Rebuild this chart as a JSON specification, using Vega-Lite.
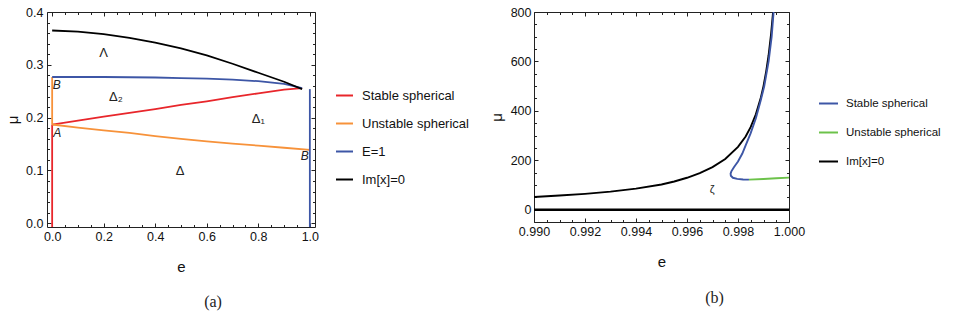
{
  "$schema": "https://vega.github.io/schema/vega-lite/v6.json",
  "background": "white",
  "padding": 5,
  "spacing": 18,
  "config": {
    "view": {"stroke": "#222", "strokeWidth": 1},
    "font": "Liberation Sans",
    "axis": {
      "grid": false, "domain": false, "labelFlush": false, "labelOverlap": false,
      "labelFont": "Liberation Sans", "labelFontSize": 12.5, "labelColor": "#111",
      "tickColor": "#222", "tickWidth": 1,
      "titleFont": "Liberation Sans", "titleFontSize": 15, "titleFontWeight": "normal", "titleColor": "#111"
    },
    "title": {"font": "Liberation Serif", "fontSize": 16, "fontWeight": "normal", "color": "#222"}
  },
  "resolve": {"scale": {"color": "independent"}, "legend": {"color": "independent"}},
  "datasets": {
    "a": [
      {"e": 0, "mu": 0.187, "s": "Stable spherical", "seg": "r", "i": 0},
      {"e": 0.1, "mu": 0.1945, "s": "Stable spherical", "seg": "r", "i": 1},
      {"e": 0.2, "mu": 0.202, "s": "Stable spherical", "seg": "r", "i": 2},
      {"e": 0.3, "mu": 0.209, "s": "Stable spherical", "seg": "r", "i": 3},
      {"e": 0.4, "mu": 0.216, "s": "Stable spherical", "seg": "r", "i": 4},
      {"e": 0.5, "mu": 0.224, "s": "Stable spherical", "seg": "r", "i": 5},
      {"e": 0.6, "mu": 0.231, "s": "Stable spherical", "seg": "r", "i": 6},
      {"e": 0.7, "mu": 0.239, "s": "Stable spherical", "seg": "r", "i": 7},
      {"e": 0.8, "mu": 0.246, "s": "Stable spherical", "seg": "r", "i": 8},
      {"e": 0.9, "mu": 0.253, "s": "Stable spherical", "seg": "r", "i": 9},
      {"e": 0.97, "mu": 0.256, "s": "Stable spherical", "seg": "r", "i": 10},
      {"e": 0, "mu": 0.187, "s": "Stable spherical", "seg": "rv", "i": 0},
      {"e": 0, "mu": -0.007, "s": "Stable spherical", "seg": "rv", "i": 1},
      {"e": 0, "mu": 0.187, "s": "Unstable spherical", "seg": "o", "i": 0},
      {"e": 0.1, "mu": 0.181, "s": "Unstable spherical", "seg": "o", "i": 1},
      {"e": 0.2, "mu": 0.176, "s": "Unstable spherical", "seg": "o", "i": 2},
      {"e": 0.3, "mu": 0.171, "s": "Unstable spherical", "seg": "o", "i": 3},
      {"e": 0.4, "mu": 0.165, "s": "Unstable spherical", "seg": "o", "i": 4},
      {"e": 0.5, "mu": 0.16, "s": "Unstable spherical", "seg": "o", "i": 5},
      {"e": 0.6, "mu": 0.155, "s": "Unstable spherical", "seg": "o", "i": 6},
      {"e": 0.7, "mu": 0.151, "s": "Unstable spherical", "seg": "o", "i": 7},
      {"e": 0.8, "mu": 0.147, "s": "Unstable spherical", "seg": "o", "i": 8},
      {"e": 0.9, "mu": 0.143, "s": "Unstable spherical", "seg": "o", "i": 9},
      {"e": 1.0, "mu": 0.139, "s": "Unstable spherical", "seg": "o", "i": 10},
      {"e": 0, "mu": 0.187, "s": "Unstable spherical", "seg": "ov", "i": 0},
      {"e": 0, "mu": 0.277, "s": "Unstable spherical", "seg": "ov", "i": 1},
      {"e": 0, "mu": 0.277, "s": "E=1", "seg": "b", "i": 0},
      {"e": 0.1, "mu": 0.277, "s": "E=1", "seg": "b", "i": 1},
      {"e": 0.2, "mu": 0.277, "s": "E=1", "seg": "b", "i": 2},
      {"e": 0.3, "mu": 0.2765, "s": "E=1", "seg": "b", "i": 3},
      {"e": 0.4, "mu": 0.276, "s": "E=1", "seg": "b", "i": 4},
      {"e": 0.5, "mu": 0.275, "s": "E=1", "seg": "b", "i": 5},
      {"e": 0.6, "mu": 0.274, "s": "E=1", "seg": "b", "i": 6},
      {"e": 0.7, "mu": 0.272, "s": "E=1", "seg": "b", "i": 7},
      {"e": 0.8, "mu": 0.269, "s": "E=1", "seg": "b", "i": 8},
      {"e": 0.9, "mu": 0.264, "s": "E=1", "seg": "b", "i": 9},
      {"e": 0.97, "mu": 0.256, "s": "E=1", "seg": "b", "i": 10},
      {"e": 1.0, "mu": 0.254, "s": "E=1", "seg": "bv", "i": 0},
      {"e": 1.0, "mu": -0.007, "s": "E=1", "seg": "bv", "i": 1},
      {"e": 0, "mu": 0.365, "s": "Im[x]=0", "seg": "k", "i": 0},
      {"e": 0.1, "mu": 0.363, "s": "Im[x]=0", "seg": "k", "i": 1},
      {"e": 0.2, "mu": 0.358, "s": "Im[x]=0", "seg": "k", "i": 2},
      {"e": 0.3, "mu": 0.351, "s": "Im[x]=0", "seg": "k", "i": 3},
      {"e": 0.4, "mu": 0.342, "s": "Im[x]=0", "seg": "k", "i": 4},
      {"e": 0.5, "mu": 0.331, "s": "Im[x]=0", "seg": "k", "i": 5},
      {"e": 0.6, "mu": 0.318, "s": "Im[x]=0", "seg": "k", "i": 6},
      {"e": 0.7, "mu": 0.302, "s": "Im[x]=0", "seg": "k", "i": 7},
      {"e": 0.8, "mu": 0.285, "s": "Im[x]=0", "seg": "k", "i": 8},
      {"e": 0.9, "mu": 0.268, "s": "Im[x]=0", "seg": "k", "i": 9},
      {"e": 0.97, "mu": 0.254, "s": "Im[x]=0", "seg": "k", "i": 10}
    ],
    "aGreek": [
      {"e": 0.2, "mu": 0.322, "t": "Λ"},
      {"e": 0.247, "mu": 0.24, "t": "Δ₂"},
      {"e": 0.8, "mu": 0.198, "t": "Δ₁"},
      {"e": 0.496, "mu": 0.099, "t": "Δ"}
    ],
    "aPts": [
      {"e": 0.018, "mu": 0.262, "t": "B"},
      {"e": 0.02, "mu": 0.171, "t": "A"},
      {"e": 0.98, "mu": 0.127, "t": "B"}
    ],
    "b": [
      {"e": 0.990, "mu": 51, "s": "Im[x]=0", "seg": "k", "i": 0},
      {"e": 0.991, "mu": 57, "s": "Im[x]=0", "seg": "k", "i": 1},
      {"e": 0.992, "mu": 64, "s": "Im[x]=0", "seg": "k", "i": 2},
      {"e": 0.993, "mu": 73, "s": "Im[x]=0", "seg": "k", "i": 3},
      {"e": 0.994, "mu": 85, "s": "Im[x]=0", "seg": "k", "i": 4},
      {"e": 0.995, "mu": 102, "s": "Im[x]=0", "seg": "k", "i": 5},
      {"e": 0.9955, "mu": 114, "s": "Im[x]=0", "seg": "k", "i": 6},
      {"e": 0.996, "mu": 129, "s": "Im[x]=0", "seg": "k", "i": 7},
      {"e": 0.9965, "mu": 148, "s": "Im[x]=0", "seg": "k", "i": 8},
      {"e": 0.997, "mu": 172, "s": "Im[x]=0", "seg": "k", "i": 9},
      {"e": 0.9975, "mu": 205, "s": "Im[x]=0", "seg": "k", "i": 10},
      {"e": 0.998, "mu": 254, "s": "Im[x]=0", "seg": "k", "i": 11},
      {"e": 0.9983, "mu": 296, "s": "Im[x]=0", "seg": "k", "i": 12},
      {"e": 0.9985, "mu": 335, "s": "Im[x]=0", "seg": "k", "i": 13},
      {"e": 0.9987, "mu": 386, "s": "Im[x]=0", "seg": "k", "i": 14},
      {"e": 0.9989, "mu": 455, "s": "Im[x]=0", "seg": "k", "i": 15},
      {"e": 0.999, "mu": 500, "s": "Im[x]=0", "seg": "k", "i": 16},
      {"e": 0.9991, "mu": 556, "s": "Im[x]=0", "seg": "k", "i": 17},
      {"e": 0.9992, "mu": 625, "s": "Im[x]=0", "seg": "k", "i": 18},
      {"e": 0.9993, "mu": 714, "s": "Im[x]=0", "seg": "k", "i": 19},
      {"e": 0.99937, "mu": 794, "s": "Im[x]=0", "seg": "k", "i": 20},
      {"e": 0.99938, "mu": 806, "s": "Im[x]=0", "seg": "k", "i": 21},
      {"e": 0.9994, "mu": 806, "s": "Stable spherical", "seg": "b", "i": 0},
      {"e": 0.99932, "mu": 700, "s": "Stable spherical", "seg": "b", "i": 1},
      {"e": 0.9992, "mu": 600, "s": "Stable spherical", "seg": "b", "i": 2},
      {"e": 0.99903, "mu": 500, "s": "Stable spherical", "seg": "b", "i": 3},
      {"e": 0.99889, "mu": 442, "s": "Stable spherical", "seg": "b", "i": 4},
      {"e": 0.9987, "mu": 370, "s": "Stable spherical", "seg": "b", "i": 5},
      {"e": 0.99849, "mu": 308, "s": "Stable spherical", "seg": "b", "i": 6},
      {"e": 0.9983, "mu": 260, "s": "Stable spherical", "seg": "b", "i": 7},
      {"e": 0.99817, "mu": 227, "s": "Stable spherical", "seg": "b", "i": 8},
      {"e": 0.998, "mu": 195, "s": "Stable spherical", "seg": "b", "i": 9},
      {"e": 0.99784, "mu": 172, "s": "Stable spherical", "seg": "b", "i": 10},
      {"e": 0.99774, "mu": 155, "s": "Stable spherical", "seg": "b", "i": 11},
      {"e": 0.99771, "mu": 146, "s": "Stable spherical", "seg": "b", "i": 12},
      {"e": 0.99772, "mu": 137, "s": "Stable spherical", "seg": "b", "i": 13},
      {"e": 0.9978, "mu": 129, "s": "Stable spherical", "seg": "b", "i": 14},
      {"e": 0.99797, "mu": 124.5, "s": "Stable spherical", "seg": "b", "i": 15},
      {"e": 0.9982, "mu": 122, "s": "Stable spherical", "seg": "b", "i": 16},
      {"e": 0.99843, "mu": 121.5, "s": "Stable spherical", "seg": "b", "i": 17},
      {"e": 0.99843, "mu": 121.5, "s": "Unstable spherical", "seg": "g", "i": 0},
      {"e": 0.999, "mu": 124, "s": "Unstable spherical", "seg": "g", "i": 1},
      {"e": 0.9995, "mu": 127, "s": "Unstable spherical", "seg": "g", "i": 2},
      {"e": 1.0, "mu": 129.6, "s": "Unstable spherical", "seg": "g", "i": 3}
    ],
    "bGreek": [
      {"e": 0.99699, "mu": 80, "t": "ζ"}
    ]
  },
  "hconcat": [
    {
      "width": 268,
      "height": 215,
      "title": {"text": "(a)", "orient": "bottom", "anchor": "middle", "frame": "group", "dx": 32, "offset": 19},
      "resolve": {"axis": {"x": "independent", "y": "independent"}},
      "layer": [
        {
          "data": {"name": "a"},
          "mark": {"type": "line", "strokeWidth": 1.8, "clip": true},
          "encoding": {
            "x": {"field": "e", "type": "quantitative", "scale": {"domain": [-0.02, 1.02], "nice": false, "zero": false},
                  "axis": {"orient": "bottom", "values": [0, 0.2, 0.4, 0.6, 0.8, 1.0], "format": ".1f", "offset": -4, "tickSize": 4, "labelPadding": 3, "title": "e", "titlePadding": 17}},
            "y": {"field": "mu", "type": "quantitative", "scale": {"domain": [-0.007, 0.4], "nice": false, "zero": false},
                  "axis": {"orient": "left", "values": [0, 0.1, 0.2, 0.3, 0.4], "format": ".1f", "offset": -4, "tickSize": 4, "labelPadding": 4, "title": "μ", "titlePadding": 5}},
            "color": {"field": "s", "type": "nominal",
                      "scale": {"domain": ["Stable spherical", "Unstable spherical", "E=1", "Im[x]=0"], "range": ["#e8262b", "#f7923a", "#3d56a6", "#000000"]},
                      "legend": {"title": null, "orient": "none", "legendX": 288, "legendY": 74, "symbolType": "stroke", "symbolSize": 289, "symbolStrokeWidth": 2, "labelFont": "Liberation Sans", "labelFontSize": 13, "labelColor": "#111", "labelOffset": 8, "rowPadding": 11}},
            "detail": {"field": "seg"},
            "order": {"field": "i", "type": "quantitative"}
          }
        },
        {
          "data": {"name": "aGreek"},
          "mark": {"type": "text", "font": "Liberation Sans", "fontSize": 13, "color": "#222"},
          "encoding": {
            "x": {"field": "e", "type": "quantitative", "scale": {"domain": [-0.02, 1.02], "nice": false, "zero": false},
                  "axis": {"orient": "top", "values": [0, 0.2, 0.4, 0.6, 0.8, 1.0], "labels": false, "offset": -4, "tickSize": 4, "title": null}},
            "y": {"field": "mu", "type": "quantitative", "scale": {"domain": [-0.007, 0.4], "nice": false, "zero": false},
                  "axis": {"orient": "right", "values": [0, 0.1, 0.2, 0.3, 0.4], "labels": false, "offset": -4, "tickSize": 4, "title": null}},
            "text": {"field": "t"}
          }
        },
        {
          "data": {"name": "aPts"},
          "mark": {"type": "text", "font": "Liberation Sans", "fontSize": 12, "fontStyle": "italic", "color": "#222"},
          "encoding": {
            "x": {"field": "e", "type": "quantitative", "scale": {"domain": [-0.02, 1.02], "nice": false, "zero": false},
                  "axis": {"orient": "bottom", "values": [0.05, 0.1, 0.15, 0.25, 0.3, 0.35, 0.45, 0.5, 0.55, 0.65, 0.7, 0.75, 0.85, 0.9, 0.95], "labels": false, "offset": -2.5, "tickSize": 2.5, "title": null}},
            "y": {"field": "mu", "type": "quantitative", "scale": {"domain": [-0.007, 0.4], "nice": false, "zero": false},
                  "axis": {"orient": "left", "values": [0.02, 0.04, 0.06, 0.08, 0.12, 0.14, 0.16, 0.18, 0.22, 0.24, 0.26, 0.28, 0.32, 0.34, 0.36, 0.38], "labels": false, "offset": -2.5, "tickSize": 2.5, "title": null}},
            "text": {"field": "t"}
          }
        },
        {
          "data": {"name": "aPts"},
          "mark": {"type": "point", "opacity": 0},
          "encoding": {
            "x": {"field": "e", "type": "quantitative", "scale": {"domain": [-0.02, 1.02], "nice": false, "zero": false},
                  "axis": {"orient": "top", "values": [0.05, 0.1, 0.15, 0.25, 0.3, 0.35, 0.45, 0.5, 0.55, 0.65, 0.7, 0.75, 0.85, 0.9, 0.95], "labels": false, "offset": -2.5, "tickSize": 2.5, "title": null}},
            "y": {"field": "mu", "type": "quantitative", "scale": {"domain": [-0.007, 0.4], "nice": false, "zero": false},
                  "axis": {"orient": "right", "values": [0.02, 0.04, 0.06, 0.08, 0.12, 0.14, 0.16, 0.18, 0.22, 0.24, 0.26, 0.28, 0.32, 0.34, 0.36, 0.38], "labels": false, "offset": -2.5, "tickSize": 2.5, "title": null}}
          }
        }
      ]
    },
    {
      "width": 255,
      "height": 210,
      "title": {"text": "(b)", "orient": "bottom", "anchor": "middle", "frame": "group", "dx": 53, "offset": 20},
      "resolve": {"axis": {"x": "independent", "y": "independent"}},
      "layer": [
        {
          "data": {"name": "b"},
          "mark": {"type": "line", "strokeWidth": 1.9, "clip": true},
          "encoding": {
            "x": {"field": "e", "type": "quantitative", "scale": {"domain": [0.99, 1.0], "nice": false, "zero": false},
                  "axis": {"orient": "bottom", "values": [0.99, 0.992, 0.994, 0.996, 0.998, 1.0], "format": ".3f", "offset": -4, "tickSize": 4, "labelPadding": 3, "title": "e", "titlePadding": 17}},
            "y": {"field": "mu", "type": "quantitative", "scale": {"domain": [-50, 800], "nice": false, "zero": false},
                  "axis": {"orient": "left", "values": [0, 200, 400, 600, 800], "format": "d", "offset": -4, "tickSize": 4, "labelPadding": 3, "title": "μ", "titlePadding": 6}},
            "color": {"field": "s", "type": "nominal",
                      "scale": {"domain": ["Stable spherical", "Unstable spherical", "Im[x]=0"], "range": ["#3d56a6", "#6cc24a", "#000000"]},
                      "legend": {"title": null, "orient": "none", "legendX": 284, "legendY": 81, "symbolType": "stroke", "symbolSize": 361, "symbolStrokeWidth": 2, "labelFont": "Liberation Sans", "labelFontSize": 11.5, "labelColor": "#111", "labelOffset": 7, "rowPadding": 13}},
            "detail": {"field": "seg"},
            "order": {"field": "i", "type": "quantitative"}
          }
        },
        {
          "data": {"name": "bGreek"},
          "mark": {"type": "rule", "color": "#000", "strokeWidth": 2.5},
          "encoding": {"y": {"datum": 0, "type": "quantitative", "scale": {"domain": [-50, 800], "nice": false, "zero": false}, "axis": null}}
        },
        {
          "data": {"name": "bGreek"},
          "mark": {"type": "text", "font": "Liberation Sans", "fontSize": 11, "color": "#222"},
          "encoding": {
            "x": {"field": "e", "type": "quantitative", "scale": {"domain": [0.99, 1.0], "nice": false, "zero": false},
                  "axis": {"orient": "top", "values": [0.99, 0.992, 0.994, 0.996, 0.998, 1.0], "labels": false, "offset": -4, "tickSize": 4, "title": null}},
            "y": {"field": "mu", "type": "quantitative", "scale": {"domain": [-50, 800], "nice": false, "zero": false},
                  "axis": {"orient": "right", "values": [0, 200, 400, 600, 800], "labels": false, "offset": -4, "tickSize": 4, "title": null}},
            "text": {"field": "t"}
          }
        },
        {
          "data": {"name": "bGreek"},
          "mark": {"type": "point", "opacity": 0},
          "encoding": {
            "x": {"field": "e", "type": "quantitative", "scale": {"domain": [0.99, 1.0], "nice": false, "zero": false},
                  "axis": {"orient": "bottom", "values": [0.9905, 0.991, 0.9915, 0.9925, 0.993, 0.9935, 0.9945, 0.995, 0.9955, 0.9965, 0.997, 0.9975, 0.9985, 0.999, 0.9995], "labels": false, "offset": -2.5, "tickSize": 2.5, "title": null}},
            "y": {"field": "mu", "type": "quantitative", "scale": {"domain": [-50, 800], "nice": false, "zero": false},
                  "axis": {"orient": "left", "values": [-50, 50, 100, 150, 250, 300, 350, 450, 500, 550, 650, 700, 750], "labels": false, "offset": -2.5, "tickSize": 2.5, "title": null}}
          }
        },
        {
          "data": {"name": "bGreek"},
          "mark": {"type": "point", "opacity": 0},
          "encoding": {
            "x": {"field": "e", "type": "quantitative", "scale": {"domain": [0.99, 1.0], "nice": false, "zero": false},
                  "axis": {"orient": "top", "values": [0.9905, 0.991, 0.9915, 0.9925, 0.993, 0.9935, 0.9945, 0.995, 0.9955, 0.9965, 0.997, 0.9975, 0.9985, 0.999, 0.9995], "labels": false, "offset": -2.5, "tickSize": 2.5, "title": null}},
            "y": {"field": "mu", "type": "quantitative", "scale": {"domain": [-50, 800], "nice": false, "zero": false},
                  "axis": {"orient": "right", "values": [-50, 50, 100, 150, 250, 300, 350, 450, 500, 550, 650, 700, 750], "labels": false, "offset": -2.5, "tickSize": 2.5, "title": null}}
          }
        }
      ]
    }
  ]
}
